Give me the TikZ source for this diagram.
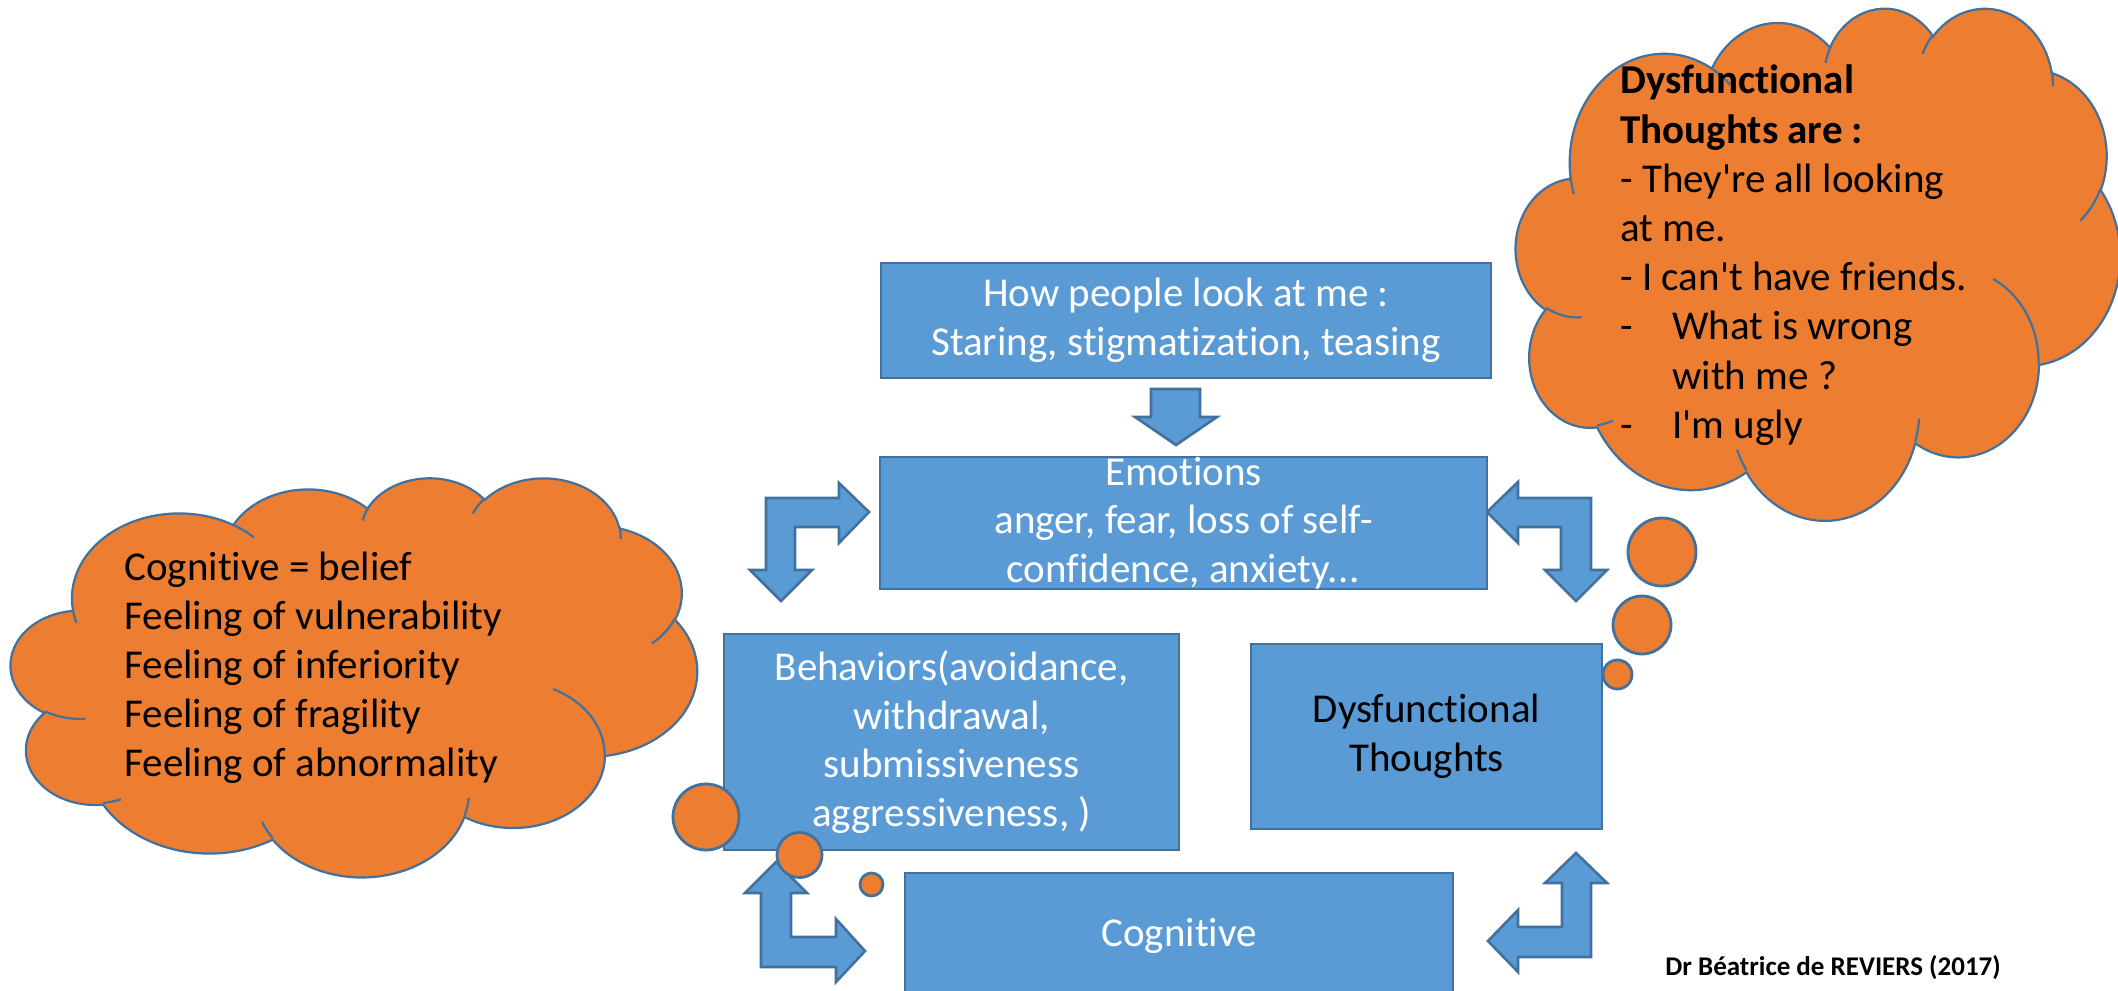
\documentclass[tikz,border=0pt]{standalone}
\usepackage{fontspec}
\setmainfont{Carlito}[Ligatures={NoCommon}]
\definecolor{boxblue}{HTML}{5B9BD5}
\definecolor{boxedge}{HTML}{41719C}
\definecolor{orng}{HTML}{ED7D31}
\newcommand\oa[4]{arc[x radius=#1,y radius=#2,start angle={ppa(#1,#2,#3)},delta angle={ppd(#1,#2,#3,#4)}]}
\newcommand\pptcloud{%
 \filldraw[cloudbody] (39,143.7)
  \oa{67.53}{91.90}{-190.4875}{123.7805}
  \oa{53.33}{72.67}{-144.1024}{89.9452}
  \oa{43.65}{59.45}{-145.8079}{99.7230}
  \oa{48.57}{65.95}{-130.9861}{117.2417}
  \oa{53.33}{72.73}{-78.7089}{109.0269}
  \oa{67.75}{92.20}{-46.2673}{130.2690}
  \oa{57.85}{78.67}{0.6250}{114.0333}
  \oa{67.52}{92.15}{22.4516}{115.1726}
  \oa{77.20}{105.43}{66.2426}{75.7110}
  \oa{43.60}{59.18}{-274.9421}{146.7356}
  \oa{43.45}{59.45}{-246.8285}{152.5189}
  -- cycle;
 \draw[cloudedge] (46.93,261.77) \oa{43.45}{59.45}{86.7420}{26.4295}
  (69.28,348.99) \oa{43.60}{59.18}{73.6105}{11.4475}
  (164.78,390.90) \oa{67.52}{92.15}{137.6242}{14.0811}
  (288.27,347.51) \oa{67.52}{92.15}{6.4533}{15.9984}
  (341.29,229.54) \oa{57.85}{78.67}{-70.2924}{70.9174}
  (417.98,153.54) \oa{53.33}{72.73}{30.3180}{27.7515}
  (383.24,54.26) \oa{48.57}{65.95}{-13.7443}{14.8589}
  (290.78,39.52) \oa{48.57}{65.95}{-149.1815}{18.1954}
  (221.41,47.20) \oa{43.65}{59.45}{-163.4943}{17.6864}
  (140.00,51.92) \oa{67.53}{91.90}{-66.7070}{12.3194}
  (41.27,157.89) \oa{67.53}{91.90}{157.65}{11.85};
}
\begin{document}
\begin{tikzpicture}[x=0.5pt,y=-0.5pt,
  declare function={ppa(\a,\b,\t)=atan2(\a*sin(\t),\b*cos(\t));
                    ppd(\a,\b,\t,\w)=mod(ppa(\a,\b,\t+\w)-ppa(\a,\b,\t)+720,360);},
  box/.style={rectangle, draw=boxedge, fill=boxblue, line width=1.4pt, inner sep=0pt,
              align=center, text=white, font=\fontsize{20.5}{24.3}\selectfont},
  blockarrow/.style={draw=boxedge, fill=boxblue, line width=1.3pt, line join=miter},
  cloudbody/.style={draw=boxedge, fill=orng, line width=1.1pt},
  cloudedge/.style={draw=boxedge, line width=1.1pt},
  bubble/.style={circle, draw=boxedge, fill=orng, line width=1.4pt, inner sep=0pt},
  cloudtext/.style={inner sep=0pt, anchor=base west, font=\fontsize{20.5}{24.6}\selectfont}
]
\useasboundingbox (0,0) rectangle (2118,990);
\clip (0,0) rectangle (2118,990);
\fill[white] (0,0) rectangle (2118,990);

% boxes
\node[box, minimum width=305pt, minimum height=57.5pt] (look) at (1186,320.5)
  {How people look at me :\\Staring, stigmatization, teasing};
\node[box, minimum width=303.5pt, minimum height=66pt] (emo) at (1183.5,523)
  {Emotions\\anger, fear, loss of self-\\confidence, anxiety.\kern0.5pt.\kern0.5pt.};
\node[box, minimum width=227.5pt, minimum height=108pt] (beh) at (951.5,742)
  {Behaviors(avoidance,\\withdrawal,\\submissiveness\\aggressiveness, )};
\node[box, text=black, minimum width=175.5pt, minimum height=92.5pt] (dys) at (1426.5,736.5)
  {Dysfunctional\\Thoughts};
\node[box, minimum width=274pt, minimum height=63pt] (cog) at (1179,936)
  {Cognitive};

% block arrows
\draw[blockarrow] (1151,389) -- (1200,389) -- (1200,417) -- (1217,417) -- (1176,445)
  -- (1135,417) -- (1151,417) -- cycle;
\draw[blockarrow] (766,570) -- (750,570) -- (781,601) -- (812,570) -- (795,570)
  -- (795,527) -- (839,527) -- (839,543) -- (869,512) -- (839,483) -- (839,498)
  -- (766,498) -- cycle;
\draw[blockarrow] (1487,512) -- (1518,482) -- (1518,498) -- (1591,498) -- (1591,570)
  -- (1607,570) -- (1576,601) -- (1545,570) -- (1561,570) -- (1561,527)
  -- (1518,527) -- (1518,543) -- cycle;
\draw[blockarrow] (776,862) -- (807,893) -- (791,893) -- (791,937) -- (836,937)
  -- (836,919) -- (865,951) -- (836,982) -- (836,967) -- (761,967) -- (761,893)
  -- (745,893) -- cycle;
\draw[blockarrow] (1576,853) -- (1607,883) -- (1591,883) -- (1591,957) -- (1518,957)
  -- (1518,972) -- (1488,941) -- (1518,910) -- (1518,927) -- (1562,927)
  -- (1562,883) -- (1545,883) -- cycle;

% clouds
\begin{scope}[shift={(11,477)}, x=0.79398pt, y=-0.46181pt]
  \pptcloud
\end{scope}
\begin{scope}[shift={(1516,7)}, x=0.69907pt, y=-0.59259pt]
  \pptcloud
\end{scope}

% thought bubbles
\node[bubble, minimum size=33pt] (lb1) at (706,817) {};
\node[bubble, minimum size=22.5pt] (lb2) at (799.5,855) {};
\node[bubble, minimum size=11.5pt] (lb3) at (871.5,884.5) {};
\node[bubble, minimum size=34pt] (rb1) at (1662,552) {};
\node[bubble, minimum size=29pt] (rb2) at (1642,625) {};
\node[bubble, minimum size=14.5pt] (rb3) at (1617.5,674.5) {};

% cloud texts
\node[cloudtext] (ltext) at (124,580) {\begin{tabular}[t]{@{}l@{}}
Cognitive = belief\\
Feeling of vulnerability\\
Feeling of inferiority\\
Feeling of fragility\\
Feeling of abnormality\end{tabular}};
\node[cloudtext] (rtext) at (1620,94) {\begin{tabular}[t]{@{}l@{}}
\textbf{Dysfunctional}\\
\textbf{Thoughts are :}\\
- They\textquotesingle re all looking\\
at me.\\
- I can\textquotesingle t have friends.\\
\makebox[26pt][l]{-}What is wrong\\
\hspace*{26pt}with me ?\\
\makebox[26pt][l]{-}I\textquotesingle m ugly\end{tabular}};

% credit
\node[anchor=base west, inner sep=0pt, font=\fontsize{13.5}{16}\selectfont\bfseries] (credit)
  at (1665,975) {Dr Béatrice de REVIERS (2017)};
\end{tikzpicture}
\end{document}
